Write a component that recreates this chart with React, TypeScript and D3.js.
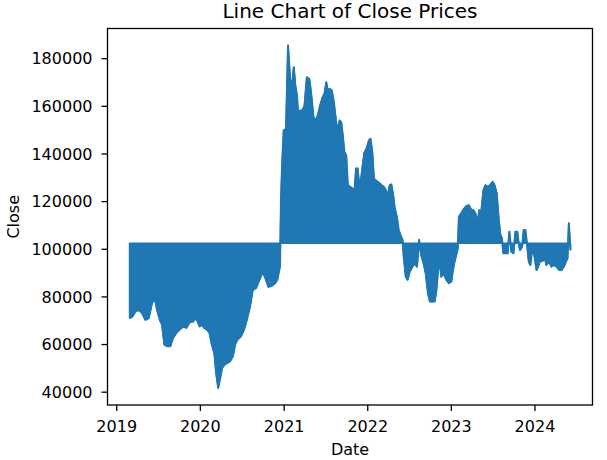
import React from 'react';
import * as d3 from 'd3';

// Close prices (date, close)
const dates: string[] = [
  '2019-02-26', '2019-03-09', '2019-03-24', '2019-04-07', '2019-04-22', '2019-05-06', '2019-05-21',
  '2019-06-04', '2019-06-16', '2019-06-26', '2019-07-08', '2019-07-18', '2019-07-28', '2019-08-09',
  '2019-08-23', '2019-09-04', '2019-09-18', '2019-10-03', '2019-10-17', '2019-11-01', '2019-11-15',
  '2019-11-30', '2019-12-14', '2019-12-29', '2020-01-08', '2020-01-18', '2020-01-30', '2020-02-10',
  '2020-02-20', '2020-03-02', '2020-03-10', '2020-03-19', '2020-03-28', '2020-04-05', '2020-04-16',
  '2020-04-29', '2020-05-10', '2020-05-22', '2020-06-01', '2020-06-11', '2020-06-26', '2020-07-10',
  '2020-07-22', '2020-08-05', '2020-08-17', '2020-08-31', '2020-09-15', '2020-09-29', '2020-10-11',
  '2020-10-24', '2020-11-07', '2020-11-22', '2020-12-02', '2020-12-14', '2020-12-18', '2020-12-23',
  '2020-12-30', '2021-01-09', '2021-01-18', '2021-01-27', '2021-02-04', '2021-02-12', '2021-02-19',
  '2021-02-26', '2021-03-05', '2021-03-12', '2021-03-22', '2021-03-31', '2021-04-10', '2021-04-21',
  '2021-04-29', '2021-05-09', '2021-05-20', '2021-05-28', '2021-06-07', '2021-06-18', '2021-06-26',
  '2021-07-04', '2021-07-11', '2021-07-18', '2021-07-28', '2021-08-06', '2021-08-15', '2021-08-23',
  '2021-08-31', '2021-09-07', '2021-09-14', '2021-09-21', '2021-09-29', '2021-10-06', '2021-10-16',
  '2021-10-26', '2021-11-04', '2021-11-11', '2021-11-18', '2021-11-26', '2021-12-03', '2021-12-10',
  '2021-12-17', '2021-12-27', '2022-01-06', '2022-01-13', '2022-01-21', '2022-01-28', '2022-02-04',
  '2022-02-13', '2022-02-23', '2022-03-02', '2022-03-12', '2022-03-21', '2022-03-28', '2022-04-07',
  '2022-04-14', '2022-04-22', '2022-04-29', '2022-05-08', '2022-05-16', '2022-05-25', '2022-06-02',
  '2022-06-07', '2022-06-16', '2022-06-24', '2022-07-03', '2022-07-15', '2022-07-25', '2022-08-04',
  '2022-08-13', '2022-08-22', '2022-08-31', '2022-09-11', '2022-09-21', '2022-09-29', '2022-10-10',
  '2022-10-20', '2022-10-28', '2022-11-04', '2022-11-11', '2022-11-18', '2022-11-28', '2022-12-10',
  '2022-12-21', '2023-01-01', '2023-01-08', '2023-01-15', '2023-01-22', '2023-01-29', '2023-02-03',
  '2023-02-13', '2023-02-23', '2023-03-07', '2023-03-18', '2023-03-28', '2023-04-07', '2023-04-16',
  '2023-04-25', '2023-05-03', '2023-05-11', '2023-05-21', '2023-05-30', '2023-06-09', '2023-06-19',
  '2023-06-30', '2023-07-09', '2023-07-18', '2023-07-27', '2023-08-03', '2023-08-10', '2023-08-16',
  '2023-08-25', '2023-09-04', '2023-09-11', '2023-09-20', '2023-09-29', '2023-10-08', '2023-10-16',
  '2023-10-22', '2023-10-28', '2023-11-06', '2023-11-13', '2023-11-20', '2023-11-27', '2023-12-05',
  '2023-12-12', '2023-12-19', '2023-12-29', '2024-01-08', '2024-01-15', '2024-01-22', '2024-02-03',
  '2024-02-13', '2024-02-20', '2024-03-02', '2024-03-13', '2024-03-24', '2024-04-04', '2024-04-16',
  '2024-04-26', '2024-05-06', '2024-05-15', '2024-05-22', '2024-05-28', '2024-06-04',
];

const closes: number[] = [
  71100, 71600, 73900, 74600, 73200, 70400, 71100,
  77400, 79500, 74600, 70400, 68300, 60000, 59300,
  59300, 62800, 64900, 66300, 67600, 67000, 69300,
  69700, 71100, 67600, 68300, 67000, 66300, 64900,
  60000, 56500, 48000, 41800, 46000, 50200, 51600,
  52300, 53000, 55100, 60000, 62100, 63400, 66300,
  70400, 76000, 83000, 83700, 87200, 90600, 87900,
  84300, 84600, 85700, 87200, 93000, 119900, 135300,
  149900, 150600, 185500, 171500, 168000, 176400, 168700,
  164600, 153400, 158300, 158300, 160400, 172200, 171500,
  165300, 155500, 154100, 156200, 160400, 163800, 165300,
  170100, 166000, 167400, 166600, 161800, 154100, 149200,
  154100, 153400, 147800, 140800, 139500, 126900, 126200,
  125600, 124100, 133900, 133900, 125600, 129700, 135300,
  140500, 142300, 145700, 146400, 140800, 129700, 129000,
  128300, 127600, 126900, 126200, 124800, 122000, 126900,
  127200, 122700, 117200, 113600, 108100, 105600, 103900,
  96900, 88500, 87200, 90600, 92700, 94100, 92700,
  103900, 97600, 94800, 89900, 81600, 78100, 78100,
  78100, 83000, 91300, 94800, 88500, 89900, 87200,
  85800, 86500, 91300, 94800, 97600, 100400, 113600,
  115100, 116700, 118100, 118500, 116700, 116400, 115100,
  110900, 116400, 115100, 124800, 126900, 126200, 126900,
  128300, 126900, 123400, 112300, 106000, 104600, 98300,
  98300, 98300, 107400, 99000, 98300, 107400, 107400,
  102500, 99700, 101100, 108100, 108100, 102500, 94800,
  93400, 99700, 97600, 91300, 92700, 94800, 95100,
  96200, 93400, 94800, 92700, 93400, 92700, 91300,
  91300, 92700, 94800, 96200, 110900, 99700,
];

// level the drawn line keeps returning to
const BASELINE = 102500;

const yTicks: number[] = [40000, 60000, 80000, 100000, 120000, 140000, 160000, 180000];
const xTickYears: number[] = [2019, 2020, 2021, 2022, 2023, 2024];

const W = 607;
const H = 460;
const left = 107.5, right = 592.5, top = 28.5, bottom = 405;
const FONT = 'DejaVu Sans, sans-serif';
const BLUE = '#1f77b4';

export default function App() {
  const parse = d3.timeParse('%Y-%m-%d');
  const data = dates.map((d, i) => ({ date: parse(d) as Date, close: closes[i] }));

  // matplotlib-style 5% margins around the data
  const [d0, d1] = d3.extent(data, d => d.date) as [Date, Date];
  const padT = (d1.getTime() - d0.getTime()) * 0.05;
  const x = d3.scaleTime()
    .domain([new Date(d0.getTime() - padT), new Date(d1.getTime() + padT)])
    .range([left, right]);

  const [v0, v1] = d3.extent(data, d => d.close) as [number, number];
  const padV = (v1 - v0) * 0.05;
  const y = d3.scaleLinear().domain([v0 - padV, v1 + padV]).range([bottom, top]);

  const area = d3.area<{ date: Date; close: number }>()
    .x(d => x(d.date))
    .y0(y(BASELINE))
    .y1(d => y(d.close));

  const line = d3.line<{ date: Date; close: number }>()
    .x(d => x(d.date))
    .y(d => y(d.close));

  const cx = (left + right) / 2;
  const cy = (top + bottom) / 2;

  return (
    <svg width={W} height={H} style={{ position: 'absolute', left: 0, top: 0, background: '#fff' }}
      fontFamily={FONT}>
      <rect x={0} y={0} width={W} height={H} fill="#fff" />
      <path d={area(data) || ''} fill={BLUE} stroke={BLUE} strokeWidth={1.5} strokeLinejoin="round" />
      <path d={line(data) || ''} fill="none" stroke={BLUE} strokeWidth={2} strokeLinejoin="round" />

      {/* frame */}
      <rect x={left} y={top} width={right - left} height={bottom - top} fill="none" stroke="#000" strokeWidth={1.3} />

      {/* y axis */}
      {yTicks.map(t => (
        <g key={t} transform={`translate(0,${y(t)})`}>
          <line x1={left - 6} x2={left} stroke="#000" strokeWidth={1.3} />
          <text x={left - 15} dy="0.36em" textAnchor="end" fontSize={16} fill="#000">{t}</text>
        </g>
      ))}

      {/* x axis */}
      {xTickYears.map(yr => {
        const px = x(new Date(yr, 0, 1));
        return (
          <g key={yr} transform={`translate(${px},0)`}>
            <line y1={bottom} y2={bottom + 6} stroke="#000" strokeWidth={1.3} />
            <text y={432} textAnchor="middle" fontSize={16} fill="#000">{yr}</text>
          </g>
        );
      })}

      <text x={cx} y={455} textAnchor="middle" fontSize={16} fill="#000">Date</text>
      <text transform={`translate(18.5,${cy}) rotate(-90)`} textAnchor="middle" fontSize={16} fill="#000">Close</text>
      <text x={cx} y={17.5} textAnchor="middle" fontSize={20} fill="#000">Line Chart of Close Prices</text>
    </svg>
  );
}
